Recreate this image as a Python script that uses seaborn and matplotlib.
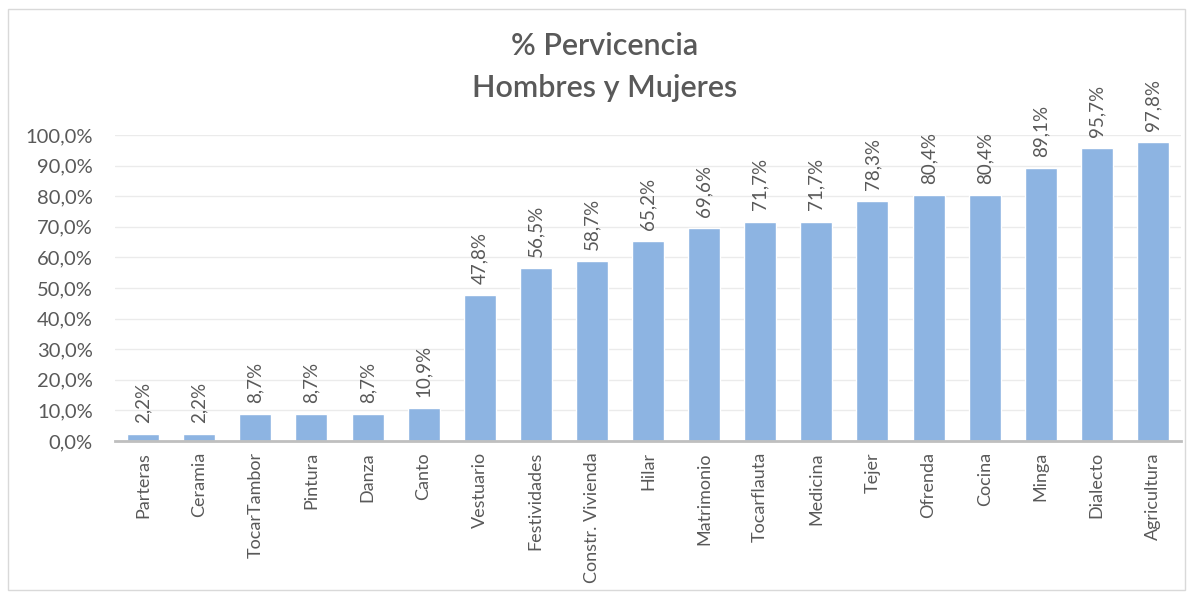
import matplotlib
matplotlib.use('Agg')
import matplotlib.pyplot as plt
import seaborn as sns
import pandas as pd
from matplotlib.patches import Rectangle

# Datos
categorias = ['Parteras', 'Ceramia', 'TocarTambor', 'Pintura', 'Danza', 'Canto',
              'Vestuario', 'Festividades', 'Constr. Vivienda', 'Hilar', 'Matrimonio',
              'Tocarflauta', 'Medicina', 'Tejer', 'Ofrenda', 'Cocina', 'Minga',
              'Dialecto', 'Agricultura']
porcentajes = [2.2, 2.2, 8.7, 8.7, 8.7, 10.9, 47.8, 56.5, 58.7, 65.2, 69.6,
               71.7, 71.7, 78.3, 80.4, 80.4, 89.1, 95.7, 97.8]
ticks_y = [0, 10, 20, 30, 40, 50, 60, 70, 80, 90, 100]

df = pd.DataFrame({'Actividad': categorias, 'Pct': porcentajes})

sns.set_style('white')
plt.rcParams['font.family'] = ['Lato', 'DejaVu Sans']
gris = '#595959'

fig = plt.figure(figsize=(11.91, 5.94), dpi=100)
ax = fig.add_axes([0.0966, 0.2576, 0.895, 0.5151])

sns.barplot(data=df, x='Actividad', y='Pct', color='#8DB4E2', saturation=1,
            width=0.57, ax=ax)

ax.set_ylim(0, 100)
ax.set_xlim(-0.5, len(categorias) - 0.5)
ax.set_yticks(ticks_y)
ax.set_yticklabels([f'{t:.1f}%'.replace('.', ',') for t in ticks_y], fontsize=14.5, color=gris)
ax.set_xticks(range(len(categorias)))
ax.set_xticklabels(categorias, rotation=90, fontsize=13, color=gris)
ax.tick_params(axis='y', length=0, pad=16)
ax.tick_params(axis='x', length=0, pad=8)
ax.set_xlabel('')
ax.set_ylabel('')

ax.yaxis.grid(True, color='#EBEBEB', linewidth=1)
ax.set_axisbelow(True)
for s in ['top', 'right', 'left']:
    ax.spines[s].set_visible(False)
ax.spines['bottom'].set_color('#BFBFBF')
ax.spines['bottom'].set_linewidth(2)

etiquetas = [f'{v:.1f}%'.replace('.', ',') for v in porcentajes]
ax.bar_label(ax.containers[0], labels=etiquetas, rotation=90, padding=8,
             fontsize=13.5, color=gris, clip_on=False)

fig.text(0.508, 0.922, '% Pervicencia', ha='center', va='center', fontsize=22,
         fontweight='semibold', color=gris)
fig.text(0.508, 0.852, 'Hombres y Mujeres', ha='center', va='center', fontsize=22,
         fontweight='semibold', color=gris)

fig.patches.append(Rectangle((0.007, 0.007), 0.988, 0.978, transform=fig.transFigure,
                             fill=False, edgecolor='#D9D9D9', linewidth=1))

fig.savefig('out.png', dpi=100)
